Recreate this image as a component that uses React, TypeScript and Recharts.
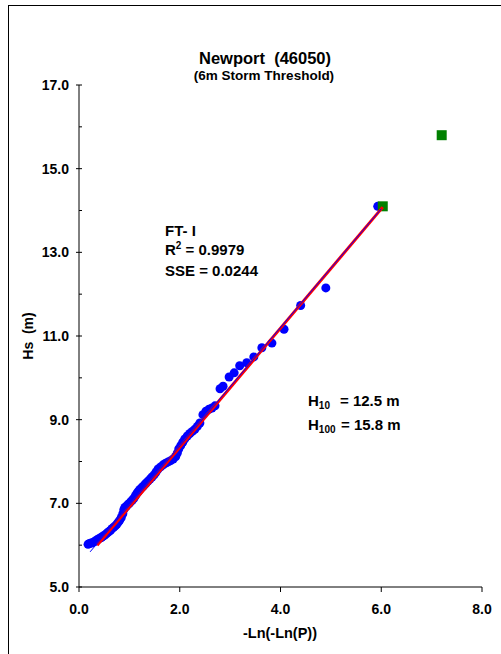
import { ScatterChart, Scatter, XAxis, YAxis } from "recharts"

// observed storm peaks: reduced variate vs Hs (m)
const obsX = [
  0.18, 0.21, 0.24, 0.27, 0.3, 0.33, 0.36, 0.39, 0.42, 0.45, 0.48, 0.51, 0.54, 0.57, 0.6, 0.63, 0.66, 0.69,
  0.72, 0.75, 0.78, 0.81, 0.84, 0.87, 0.89, 0.91, 0.94, 0.97, 1.0, 1.03, 1.06, 1.09, 1.12, 1.15, 1.18, 1.21,
  1.24, 1.27, 1.3, 1.33, 1.37, 1.41, 1.45, 1.49, 1.53, 1.57, 1.62, 1.67, 1.72, 1.77, 1.82, 1.87, 1.92, 1.95,
  1.98, 2.02, 2.06, 2.1, 2.15, 2.2, 2.25, 2.3, 2.35, 2.4, 2.46, 2.52, 2.58, 2.64, 2.7, 2.8, 2.86, 2.98, 3.08,
  3.19, 3.33, 3.47, 3.63, 3.83, 4.07, 4.4, 4.9, 5.93,
]
const obsY = [
  6.02, 6.04, 6.05, 6.06, 6.08, 6.1, 6.13, 6.15, 6.17, 6.19, 6.22, 6.24, 6.27, 6.3, 6.33, 6.36, 6.4, 6.43,
  6.46, 6.5, 6.55, 6.6, 6.66, 6.75, 6.85, 6.9, 6.93, 6.97, 7.0, 7.04, 7.08, 7.12, 7.18, 7.24, 7.29, 7.33,
  7.37, 7.4, 7.44, 7.48, 7.53, 7.58, 7.63, 7.68, 7.75, 7.82, 7.87, 7.92, 7.96, 7.99, 8.02, 8.06, 8.12, 8.2,
  8.3, 8.38, 8.46, 8.54, 8.61, 8.67, 8.72, 8.77, 8.84, 8.92, 9.12, 9.2, 9.25, 9.28, 9.33, 9.74, 9.8, 10.02,
  10.12, 10.29, 10.36, 10.5, 10.72, 10.83, 11.16, 11.73, 12.15, 14.1,
]

// fitted FT-I lines
const fitBlueX = [0.22, 6.0]
const fitBlueY = [5.84, 14.04]
const fitRedX = [0.36, 6.03]
const fitRedY = [6.0, 14.08]

// H10 / H100 estimates
const returnX = [6.03, 7.2]
const returnY = [14.1, 15.8]

const xTicks = [0, 2, 4, 6, 8]
const yTicks = [5, 6, 7, 8, 9, 10, 11, 12, 13, 14, 15, 16, 17]
const yLabelTicks = [5, 7, 9, 11, 13, 15, 17]

const toPts = (xs: number[], ys: number[]) => xs.map((x, i) => ({ x, y: ys[i] }))

const font = "'Liberation Sans', Arial, sans-serif"

const YTick = (props: any) => {
  const { x, y, payload } = props
  const v = payload.value
  const major = yLabelTicks.includes(v)
  return (
    <g>
      <line x1={major ? x - 3 : x} x2={x + 3} y1={y} y2={y} stroke="#000" />
      {major && (
        <text x={x - 10} y={y} dy="0.36em" textAnchor="end" fontFamily={font} fontWeight="bold" fontSize={14} fill="#000">
          {v.toFixed(1)}
        </text>
      )}
    </g>
  )
}

const XTick = (props: any) => {
  const { x, y, payload } = props
  return (
    <g>
      <line x1={x} x2={x} y1={y} y2={y + 5} stroke="#000" />
      <text x={x} y={y + 27} textAnchor="middle" fontFamily={font} fontWeight="bold" fontSize={14} fill="#000">
        {payload.value.toFixed(1)}
      </text>
    </g>
  )
}

const noShape = () => <g />

export default function App() {
  const txt = { fontFamily: font, fontWeight: "bold" as const, fill: "#000" }
  return (
    <div style={{ position: "absolute", left: 0, top: 0, width: 501, height: 654, overflow: "hidden", background: "#fff" }}>
      <ScatterChart width={501} height={654} margin={{ top: 85, right: 19, bottom: 37, left: 19 }}>
        <XAxis
          type="number"
          dataKey="x"
          domain={[0, 8]}
          ticks={xTicks}
          interval={0}
          stroke="#000"
          tickSize={0}
          tickMargin={0}
          tick={XTick}
          height={30}
        />
        <YAxis
          type="number"
          dataKey="y"
          domain={[5, 17]}
          ticks={yTicks}
          interval={0}
          stroke="#000"
          tickSize={0}
          tickMargin={0}
          tick={YTick}
          width={60}
        />
        <Scatter
          data={toPts(obsX, obsY)}
          fill="#0000FF"
          isAnimationActive={false}
          shape={(p: any) => <circle cx={p.cx} cy={p.cy} r={4.5} fill="#0000FF" />}
        />
        <Scatter
          data={toPts(returnX, returnY)}
          fill="#008000"
          isAnimationActive={false}
          shape={(p: any) => <rect x={p.cx - 5} y={p.cy - 5} width={10} height={10} fill="#008000" />}
        />
        <Scatter
          data={toPts(fitRedX, fitRedY)}
          line={{ stroke: "#FF0000", strokeWidth: 3 }}
          shape={noShape}
          isAnimationActive={false}
        />
        <Scatter
          data={toPts(fitBlueX, fitBlueY)}
          line={{ stroke: "#0000FF", strokeWidth: 1 }}
          shape={noShape}
          isAnimationActive={false}
        />
      </ScatterChart>
      <svg width={501} height={654} style={{ position: "absolute", left: 0, top: 0, pointerEvents: "none" }}>
        <rect x={8.5} y={5.5} width={700} height={800} fill="none" stroke="#000" />
        <text x={265} y={64} textAnchor="middle" fontSize={16.5} style={{ whiteSpace: "pre" }} {...txt}>
          Newport  (46050)
        </text>
        <text x={264} y={80} textAnchor="middle" fontSize={13.5} {...txt}>
          (6m Storm Threshold)
        </text>
        <text x={280} y={638} textAnchor="middle" fontSize={14.5} {...txt}>
          -Ln(-Ln(P))
        </text>
        <text
          x={33}
          y={336}
          textAnchor="middle"
          fontSize={14}
          transform="rotate(-90 33 336)"
          style={{ whiteSpace: "pre" }}
          {...txt}
        >
          Hs  (m)
        </text>
        <text x={165} y={236} fontSize={15} style={{ whiteSpace: "pre" }} {...txt}>
          FT- I
        </text>
        <text x={165} y={255} fontSize={15} {...txt}>
          R<tspan fontSize={10} dy={-6}>2</tspan>
          <tspan dy={6}> = 0.9979</tspan>
        </text>
        <text x={165} y={276} fontSize={15} {...txt}>
          SSE = 0.0244
        </text>
        <text x={308} y={406} fontSize={15} {...txt}>
          H<tspan fontSize={10} dy={3}>10</tspan>
        </text>
        <text x={340} y={406} fontSize={15} {...txt}>
          = 12.5 m
        </text>
        <text x={308} y={430} fontSize={15} {...txt}>
          H<tspan fontSize={10} dy={3}>100</tspan>
        </text>
        <text x={341} y={430} fontSize={15} {...txt}>
          = 15.8 m
        </text>
      </svg>
    </div>
  )
}
